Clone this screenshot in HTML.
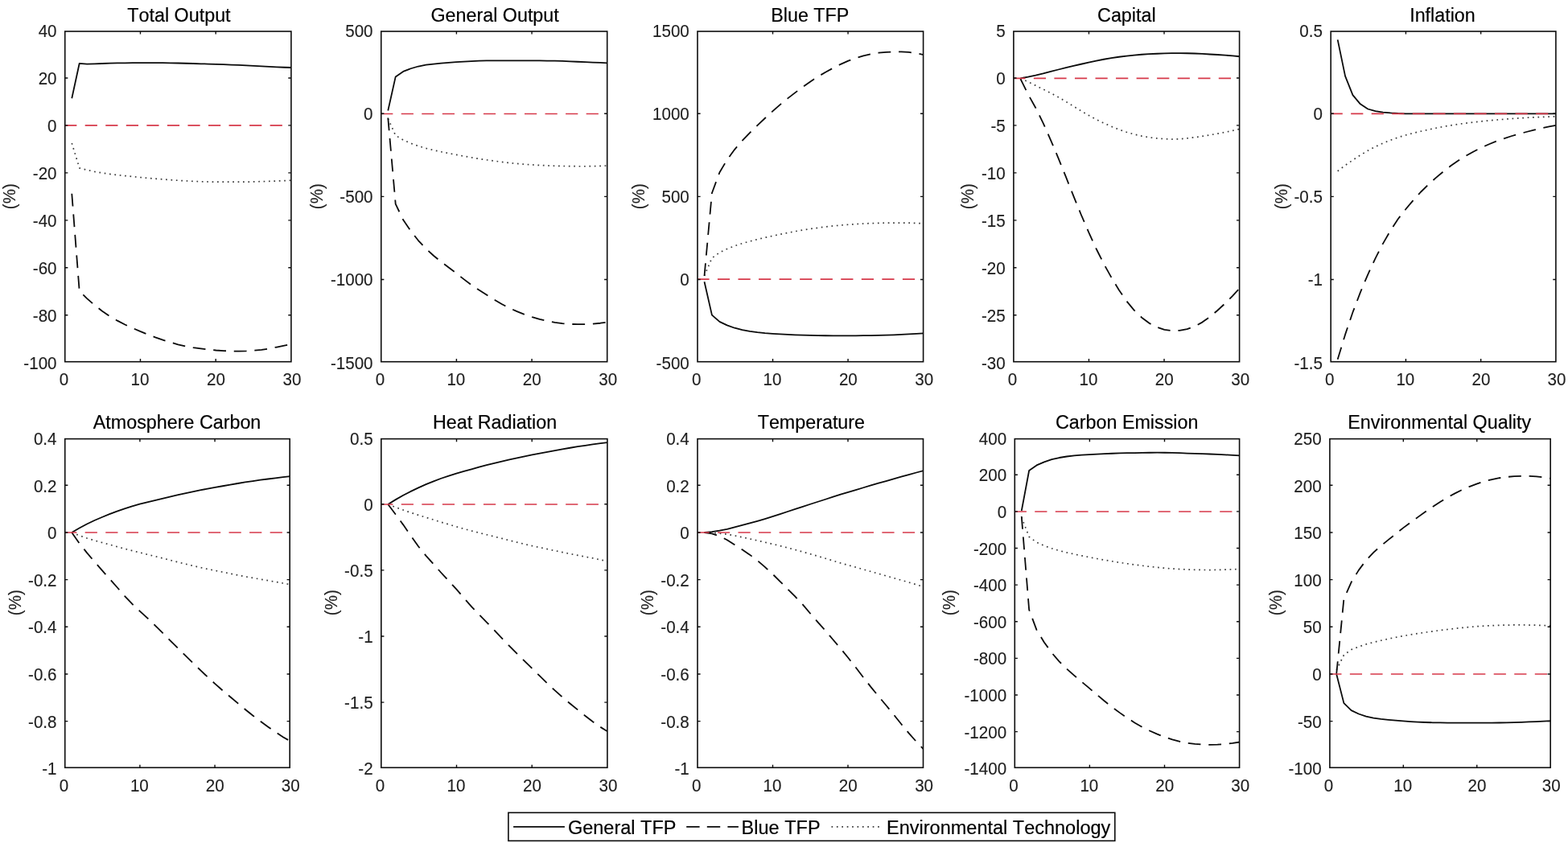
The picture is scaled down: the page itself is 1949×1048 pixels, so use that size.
<!DOCTYPE html>
<html lang="en">
<head>
<meta charset="utf-8">
<title>Impulse responses</title>
<style>
html,body{margin:0;padding:0;background:#fff;}
body{width:1949px;height:1048px;overflow:hidden;font-family:"Liberation Sans",Arial,Helvetica,sans-serif;}
svg{display:block;}
text{font-kerning:none;}
</style>
</head>
<body>
<svg width="1949" height="1048" viewBox="0 0 1949 1048" font-family="'Liberation Sans', Arial, Helvetica, sans-serif">
<rect x="0" y="0" width="1949" height="1048" fill="#fff"/>
<clipPath id="c0"><rect x="80.75" y="39" width="281.15" height="410.7"/></clipPath>
<g>
<g clip-path="url(#c0)">
<path d="M89.28 178 L98.71 208.9 L108.14 211.33 L117.58 213.36 L127.01 215.03 L136.44 216.38 L145.87 217.53 L155.3 218.56 L164.73 219.55 L174.17 220.48 L183.6 221.36 L193.03 222.18 L202.46 222.93 L211.89 223.64 L221.32 224.3 L230.76 224.87 L240.19 225.33 L249.62 225.71 L259.05 226.01 L268.48 226.17 L277.91 226.2 L287.35 226.2 L296.78 226.19 L306.21 226.13 L315.64 225.93 L325.07 225.63 L334.5 225.31 L343.94 224.98 L353.37 224.6 L362.8 224.2" fill="none" stroke-dasharray="1.7 4.7" stroke-width="1.7" stroke="#3a3a3a" stroke-linejoin="round"/>
<path d="M89.28 240.8 L98.71 362 L108.14 371.11 L117.58 379.34 L127.01 386.8 L136.44 393.21 L145.87 398.67 L155.3 403.48 L164.73 407.89 L174.17 411.95 L183.6 415.74 L193.03 419.3 L202.46 422.58 L211.89 425.6 L221.32 428.28 L230.76 430.43 L240.19 432.09 L249.62 433.43 L259.05 434.56 L268.48 435.5 L277.91 436.14 L287.35 436.51 L296.78 436.62 L306.21 436.37 L315.64 435.78 L325.07 434.87 L334.5 433.43 L343.94 431.52 L353.37 429.61 L362.8 428" fill="none" stroke-dasharray="15.8 9.8" stroke-width="1.8" stroke="#0a0a0a" stroke-linejoin="round"/>
<path d="M89.28 122.3 L98.71 78.8 L108.14 79.6 L117.58 79.28 L127.01 79 L136.44 78.72 L145.87 78.46 L155.3 78.28 L164.73 78.21 L174.17 78.2 L183.6 78.2 L193.03 78.2 L202.46 78.22 L211.89 78.31 L221.32 78.5 L230.76 78.75 L240.19 79.02 L249.62 79.28 L259.05 79.56 L268.48 79.87 L277.91 80.2 L287.35 80.55 L296.78 80.93 L306.21 81.35 L315.64 81.85 L325.07 82.38 L334.5 82.91 L343.94 83.38 L353.37 83.73 L362.8 84" fill="none" stroke-width="1.8" stroke="#0a0a0a" stroke-linejoin="round"/>
<line x1="80.15" y1="155.8" x2="361.9" y2="155.8" stroke="#d6394a" stroke-width="1.7" stroke-dasharray="15.2 10.35" fill="none"/>
</g>
<rect x="80.75" y="39" width="281.15" height="410.7" fill="none" stroke="#0d0d0d" stroke-width="1.6"/>
<path d="M174.47 449.7 v-3.6 M174.47 39 v3.6 M268.18 449.7 v-3.6 M268.18 39 v3.6 M80.75 96.96 h3.6 M361.9 96.96 h-3.6 M80.75 155.91 h3.6 M361.9 155.91 h-3.6 M80.75 214.87 h3.6 M361.9 214.87 h-3.6 M80.75 273.83 h3.6 M361.9 273.83 h-3.6 M80.75 332.79 h3.6 M361.9 332.79 h-3.6 M80.75 391.74 h3.6 M361.9 391.74 h-3.6" stroke="#0d0d0d" stroke-width="1.4" fill="none"/>
<text transform="translate(79.35 479) scale(1 1.1)" font-size="20.6" text-anchor="middle" fill="#202020" stroke="#202020" stroke-width="0.12">0</text>
<text transform="translate(173.9 479) scale(1 1.1)" font-size="20.6" text-anchor="middle" fill="#202020" stroke="#202020" stroke-width="0.12">10</text>
<text transform="translate(268.45 479) scale(1 1.1)" font-size="20.6" text-anchor="middle" fill="#202020" stroke="#202020" stroke-width="0.12">20</text>
<text transform="translate(363 479) scale(1 1.1)" font-size="20.6" text-anchor="middle" fill="#202020" stroke="#202020" stroke-width="0.12">30</text>
<text transform="translate(70.55 46.3) scale(1 1.1)" font-size="20.6" text-anchor="end" fill="#202020" stroke="#202020" stroke-width="0.12">40</text>
<text transform="translate(70.55 105.19) scale(1 1.1)" font-size="20.6" text-anchor="end" fill="#202020" stroke="#202020" stroke-width="0.12">20</text>
<text transform="translate(70.55 164.07) scale(1 1.1)" font-size="20.6" text-anchor="end" fill="#202020" stroke="#202020" stroke-width="0.12">0</text>
<text transform="translate(70.55 222.96) scale(1 1.1)" font-size="20.6" text-anchor="end" fill="#202020" stroke="#202020" stroke-width="0.12">-20</text>
<text transform="translate(70.55 281.84) scale(1 1.1)" font-size="20.6" text-anchor="end" fill="#202020" stroke="#202020" stroke-width="0.12">-40</text>
<text transform="translate(70.55 340.73) scale(1 1.1)" font-size="20.6" text-anchor="end" fill="#202020" stroke="#202020" stroke-width="0.12">-60</text>
<text transform="translate(70.55 399.61) scale(1 1.1)" font-size="20.6" text-anchor="end" fill="#202020" stroke="#202020" stroke-width="0.12">-80</text>
<text transform="translate(70.55 458.5) scale(1 1.1)" font-size="20.6" text-anchor="end" fill="#202020" stroke="#202020" stroke-width="0.12">-100</text>
<text x="222.47" y="26.7" font-size="23.3" text-anchor="middle" fill="#000" stroke="#000" stroke-width="0.18">Total Output</text>
<text transform="translate(19.1 244.2) rotate(-90) scale(1 1.1)" font-size="20.6" text-anchor="middle" fill="#202020" stroke="#202020" stroke-width="0.12">(%)</text>
</g>
<clipPath id="c1"><rect x="473.75" y="39" width="280.95" height="410.7"/></clipPath>
<g>
<g clip-path="url(#c1)">
<path d="M482.28 147.5 L491.7 168.3 L501.13 174.01 L510.55 178.12 L519.98 181.55 L529.4 184.33 L538.83 186.66 L548.25 188.72 L557.68 190.59 L567.1 192.38 L576.53 194.11 L585.95 195.78 L595.38 197.34 L604.8 198.78 L614.23 200.09 L623.65 201.31 L633.08 202.44 L642.5 203.42 L651.93 204.22 L661.35 204.87 L670.78 205.43 L680.2 205.9 L689.62 206.25 L699.05 206.47 L708.48 206.63 L717.9 206.74 L727.33 206.77 L736.75 206.64 L746.18 206.33 L755.6 205.9" fill="none" stroke-dasharray="1.7 4.7" stroke-width="1.7" stroke="#3a3a3a" stroke-linejoin="round"/>
<path d="M482.28 146.5 L491.7 253.6 L501.13 273.32 L510.55 287.04 L519.98 299.06 L529.4 309.14 L538.83 317.75 L548.25 325.41 L557.68 332.51 L567.1 339.68 L576.53 347.14 L585.95 354.21 L595.38 360.55 L604.8 366.52 L614.23 372.42 L623.65 378.03 L633.08 382.91 L642.5 387.15 L651.93 390.86 L661.35 394.14 L670.78 396.93 L680.2 399.17 L689.62 400.9 L699.05 402.1 L708.48 402.9 L717.9 403.2 L727.33 403.06 L736.75 402.61 L746.18 401.73 L755.6 400.4" fill="none" stroke-dasharray="15.8 9.8" stroke-width="1.8" stroke="#0a0a0a" stroke-linejoin="round"/>
<path d="M482.28 137.5 L491.7 95.4 L501.13 88.95 L510.55 85.24 L519.98 82.51 L529.4 80.73 L538.83 79.57 L548.25 78.66 L557.68 77.83 L567.1 77.13 L576.53 76.56 L585.95 76.06 L595.38 75.64 L604.8 75.39 L614.23 75.31 L623.65 75.3 L633.08 75.3 L642.5 75.3 L651.93 75.31 L661.35 75.34 L670.78 75.42 L680.2 75.55 L689.62 75.71 L699.05 75.94 L708.48 76.31 L717.9 76.75 L727.33 77.19 L736.75 77.58 L746.18 77.94 L755.6 78.3" fill="none" stroke-width="1.8" stroke="#0a0a0a" stroke-linejoin="round"/>
<line x1="473.15" y1="141.5" x2="754.7" y2="141.5" stroke="#d6394a" stroke-width="1.7" stroke-dasharray="15.2 10.35" fill="none"/>
</g>
<rect x="473.75" y="39" width="280.95" height="410.7" fill="none" stroke="#0d0d0d" stroke-width="1.6"/>
<path d="M567.4 449.7 v-3.6 M567.4 39 v3.6 M661.05 449.7 v-3.6 M661.05 39 v3.6 M473.75 141.18 h3.6 M754.7 141.18 h-3.6 M473.75 244.35 h3.6 M754.7 244.35 h-3.6 M473.75 347.52 h3.6 M754.7 347.52 h-3.6" stroke="#0d0d0d" stroke-width="1.4" fill="none"/>
<text transform="translate(472.35 479) scale(1 1.1)" font-size="20.6" text-anchor="middle" fill="#202020" stroke="#202020" stroke-width="0.12">0</text>
<text transform="translate(566.83 479) scale(1 1.1)" font-size="20.6" text-anchor="middle" fill="#202020" stroke="#202020" stroke-width="0.12">10</text>
<text transform="translate(661.32 479) scale(1 1.1)" font-size="20.6" text-anchor="middle" fill="#202020" stroke="#202020" stroke-width="0.12">20</text>
<text transform="translate(755.8 479) scale(1 1.1)" font-size="20.6" text-anchor="middle" fill="#202020" stroke="#202020" stroke-width="0.12">30</text>
<text transform="translate(463.55 46.3) scale(1 1.1)" font-size="20.6" text-anchor="end" fill="#202020" stroke="#202020" stroke-width="0.12">500</text>
<text transform="translate(463.55 149.35) scale(1 1.1)" font-size="20.6" text-anchor="end" fill="#202020" stroke="#202020" stroke-width="0.12">0</text>
<text transform="translate(463.55 252.4) scale(1 1.1)" font-size="20.6" text-anchor="end" fill="#202020" stroke="#202020" stroke-width="0.12">-500</text>
<text transform="translate(463.55 355.45) scale(1 1.1)" font-size="20.6" text-anchor="end" fill="#202020" stroke="#202020" stroke-width="0.12">-1000</text>
<text transform="translate(463.55 458.5) scale(1 1.1)" font-size="20.6" text-anchor="end" fill="#202020" stroke="#202020" stroke-width="0.12">-1500</text>
<text x="615.12" y="26.7" font-size="23.3" text-anchor="middle" fill="#000" stroke="#000" stroke-width="0.18">General Output</text>
<text transform="translate(400.8 244.2) rotate(-90) scale(1 1.1)" font-size="20.6" text-anchor="middle" fill="#202020" stroke="#202020" stroke-width="0.12">(%)</text>
</g>
<clipPath id="c2"><rect x="867" y="39" width="280.6" height="410.7"/></clipPath>
<g>
<g clip-path="url(#c2)">
<path d="M875.51 342.9 L884.93 320.8 L894.34 314.03 L903.75 309.45 L913.17 305.73 L922.58 302.66 L931.99 300 L941.41 297.6 L950.82 295.36 L960.23 293.28 L969.65 291.32 L979.06 289.43 L988.47 287.65 L997.89 286.02 L1007.3 284.56 L1016.71 283.21 L1026.13 281.97 L1035.54 280.88 L1044.95 279.99 L1054.37 279.24 L1063.78 278.57 L1073.19 278.01 L1082.61 277.6 L1092.02 277.35 L1101.43 277.18 L1110.85 277.06 L1120.26 277.03 L1129.67 277.16 L1139.09 277.47 L1148.5 277.9" fill="none" stroke-dasharray="1.7 4.7" stroke-width="1.7" stroke="#3a3a3a" stroke-linejoin="round"/>
<path d="M875.51 343 L884.93 240 L894.34 214.58 L903.75 198.65 L913.17 185.81 L922.58 174.98 L931.99 165.13 L941.41 155.86 L950.82 147 L960.23 138.4 L969.65 130.14 L979.06 122.4 L988.47 115.13 L997.89 108.13 L1007.3 101.45 L1016.71 95.31 L1026.13 89.72 L1035.54 84.58 L1044.95 79.81 L1054.37 75.63 L1063.78 72.18 L1073.19 69.38 L1082.61 67.23 L1092.02 65.67 L1101.43 64.8 L1110.85 64.39 L1120.26 64.36 L1129.67 64.97 L1139.09 66.28 L1148.5 68.2" fill="none" stroke-dasharray="15.8 9.8" stroke-width="1.8" stroke="#0a0a0a" stroke-linejoin="round"/>
<path d="M875.51 350.2 L884.93 391.6 L894.34 399.87 L903.75 404.42 L913.17 407.74 L922.58 410.08 L931.99 411.87 L941.41 413.17 L950.82 414.09 L960.23 414.78 L969.65 415.34 L979.06 415.85 L988.47 416.29 L997.89 416.63 L1007.3 416.87 L1016.71 417.07 L1026.13 417.23 L1035.54 417.34 L1044.95 417.39 L1054.37 417.37 L1063.78 417.31 L1073.19 417.21 L1082.61 417.08 L1092.02 416.92 L1101.43 416.65 L1110.85 416.3 L1120.26 415.89 L1129.67 415.43 L1139.09 414.89 L1148.5 414.3" fill="none" stroke-width="1.8" stroke="#0a0a0a" stroke-linejoin="round"/>
<line x1="866.4" y1="347.2" x2="1147.6" y2="347.2" stroke="#d6394a" stroke-width="1.7" stroke-dasharray="15.2 10.35" fill="none"/>
</g>
<rect x="867" y="39" width="280.6" height="410.7" fill="none" stroke="#0d0d0d" stroke-width="1.6"/>
<path d="M960.53 449.7 v-3.6 M960.53 39 v3.6 M1054.07 449.7 v-3.6 M1054.07 39 v3.6 M867 141.18 h3.6 M1147.6 141.18 h-3.6 M867 244.35 h3.6 M1147.6 244.35 h-3.6 M867 347.52 h3.6 M1147.6 347.52 h-3.6" stroke="#0d0d0d" stroke-width="1.4" fill="none"/>
<text transform="translate(865.6 479) scale(1 1.1)" font-size="20.6" text-anchor="middle" fill="#202020" stroke="#202020" stroke-width="0.12">0</text>
<text transform="translate(959.97 479) scale(1 1.1)" font-size="20.6" text-anchor="middle" fill="#202020" stroke="#202020" stroke-width="0.12">10</text>
<text transform="translate(1054.33 479) scale(1 1.1)" font-size="20.6" text-anchor="middle" fill="#202020" stroke="#202020" stroke-width="0.12">20</text>
<text transform="translate(1148.7 479) scale(1 1.1)" font-size="20.6" text-anchor="middle" fill="#202020" stroke="#202020" stroke-width="0.12">30</text>
<text transform="translate(856.8 46.3) scale(1 1.1)" font-size="20.6" text-anchor="end" fill="#202020" stroke="#202020" stroke-width="0.12">1500</text>
<text transform="translate(856.8 149.35) scale(1 1.1)" font-size="20.6" text-anchor="end" fill="#202020" stroke="#202020" stroke-width="0.12">1000</text>
<text transform="translate(856.8 252.4) scale(1 1.1)" font-size="20.6" text-anchor="end" fill="#202020" stroke="#202020" stroke-width="0.12">500</text>
<text transform="translate(856.8 355.45) scale(1 1.1)" font-size="20.6" text-anchor="end" fill="#202020" stroke="#202020" stroke-width="0.12">0</text>
<text transform="translate(856.8 458.5) scale(1 1.1)" font-size="20.6" text-anchor="end" fill="#202020" stroke="#202020" stroke-width="0.12">-500</text>
<text x="1006.8" y="26.7" font-size="23.3" text-anchor="middle" fill="#000" stroke="#000" stroke-width="0.18">Blue TFP</text>
<text transform="translate(800.6 244.2) rotate(-90) scale(1 1.1)" font-size="20.6" text-anchor="middle" fill="#202020" stroke="#202020" stroke-width="0.12">(%)</text>
</g>
<clipPath id="c3"><rect x="1259.9" y="39" width="280.7" height="410.7"/></clipPath>
<g>
<g clip-path="url(#c3)">
<path d="M1268.42 97.5 L1277.83 101.68 L1287.25 106.33 L1296.67 110.98 L1306.08 115.69 L1315.5 120.76 L1324.92 126.33 L1334.33 132.11 L1343.75 137.85 L1353.17 143.35 L1362.58 148.41 L1372 153.03 L1381.42 157.23 L1390.83 161.01 L1400.25 164.25 L1409.67 166.95 L1419.08 169.11 L1428.5 170.78 L1437.92 171.95 L1447.33 172.68 L1456.75 173.03 L1466.17 172.79 L1475.58 171.9 L1485 170.72 L1494.42 169.34 L1503.83 167.82 L1513.25 166.18 L1522.67 164.39 L1532.08 162.38 L1541.5 160.2" fill="none" stroke-dasharray="1.7 4.7" stroke-width="1.7" stroke="#3a3a3a" stroke-linejoin="round"/>
<path d="M1268.42 98 L1277.83 117.09 L1287.25 133.94 L1296.67 153.12 L1306.08 174.29 L1315.5 196.56 L1324.92 219.91 L1334.33 243.7 L1343.75 266.74 L1353.17 288.65 L1362.58 309.24 L1372 327.98 L1381.42 344.95 L1390.83 360.54 L1400.25 374.28 L1409.67 385.67 L1419.08 394.71 L1428.5 401.78 L1437.92 406.78 L1447.33 409.81 L1456.75 411.18 L1466.17 410.89 L1475.58 409.06 L1485 405.69 L1494.42 400.6 L1503.83 393.92 L1513.25 385.97 L1522.67 377.26 L1532.08 367.85 L1541.5 357.6" fill="none" stroke-dasharray="15.8 9.8" stroke-width="1.8" stroke="#0a0a0a" stroke-linejoin="round"/>
<path d="M1268.42 97.3 L1277.83 95.6 L1287.25 93.61 L1296.67 91.39 L1306.08 88.94 L1315.5 86.5 L1324.92 84.21 L1334.33 81.97 L1343.75 79.75 L1353.17 77.6 L1362.58 75.59 L1372 73.75 L1381.42 72.13 L1390.83 70.74 L1400.25 69.55 L1409.67 68.55 L1419.08 67.77 L1428.5 67.18 L1437.92 66.74 L1447.33 66.39 L1456.75 66.17 L1466.17 66.14 L1475.58 66.24 L1485 66.48 L1494.42 66.94 L1503.83 67.48 L1513.25 68.01 L1522.67 68.62 L1532.08 69.39 L1541.5 70.3" fill="none" stroke-width="1.8" stroke="#0a0a0a" stroke-linejoin="round"/>
<line x1="1259.3" y1="97.4" x2="1540.6" y2="97.4" stroke="#d6394a" stroke-width="1.7" stroke-dasharray="15.2 10.35" fill="none"/>
</g>
<rect x="1259.9" y="39" width="280.7" height="410.7" fill="none" stroke="#0d0d0d" stroke-width="1.6"/>
<path d="M1353.47 449.7 v-3.6 M1353.47 39 v3.6 M1447.03 449.7 v-3.6 M1447.03 39 v3.6 M1259.9 96.96 h3.6 M1540.6 96.96 h-3.6 M1259.9 155.91 h3.6 M1540.6 155.91 h-3.6 M1259.9 214.87 h3.6 M1540.6 214.87 h-3.6 M1259.9 273.83 h3.6 M1540.6 273.83 h-3.6 M1259.9 332.79 h3.6 M1540.6 332.79 h-3.6 M1259.9 391.74 h3.6 M1540.6 391.74 h-3.6" stroke="#0d0d0d" stroke-width="1.4" fill="none"/>
<text transform="translate(1258.5 479) scale(1 1.1)" font-size="20.6" text-anchor="middle" fill="#202020" stroke="#202020" stroke-width="0.12">0</text>
<text transform="translate(1352.9 479) scale(1 1.1)" font-size="20.6" text-anchor="middle" fill="#202020" stroke="#202020" stroke-width="0.12">10</text>
<text transform="translate(1447.3 479) scale(1 1.1)" font-size="20.6" text-anchor="middle" fill="#202020" stroke="#202020" stroke-width="0.12">20</text>
<text transform="translate(1541.7 479) scale(1 1.1)" font-size="20.6" text-anchor="middle" fill="#202020" stroke="#202020" stroke-width="0.12">30</text>
<text transform="translate(1249.7 46.3) scale(1 1.1)" font-size="20.6" text-anchor="end" fill="#202020" stroke="#202020" stroke-width="0.12">5</text>
<text transform="translate(1249.7 105.19) scale(1 1.1)" font-size="20.6" text-anchor="end" fill="#202020" stroke="#202020" stroke-width="0.12">0</text>
<text transform="translate(1249.7 164.07) scale(1 1.1)" font-size="20.6" text-anchor="end" fill="#202020" stroke="#202020" stroke-width="0.12">-5</text>
<text transform="translate(1249.7 222.96) scale(1 1.1)" font-size="20.6" text-anchor="end" fill="#202020" stroke="#202020" stroke-width="0.12">-10</text>
<text transform="translate(1249.7 281.84) scale(1 1.1)" font-size="20.6" text-anchor="end" fill="#202020" stroke="#202020" stroke-width="0.12">-15</text>
<text transform="translate(1249.7 340.73) scale(1 1.1)" font-size="20.6" text-anchor="end" fill="#202020" stroke="#202020" stroke-width="0.12">-20</text>
<text transform="translate(1249.7 399.61) scale(1 1.1)" font-size="20.6" text-anchor="end" fill="#202020" stroke="#202020" stroke-width="0.12">-25</text>
<text transform="translate(1249.7 458.5) scale(1 1.1)" font-size="20.6" text-anchor="end" fill="#202020" stroke="#202020" stroke-width="0.12">-30</text>
<text x="1400.35" y="26.7" font-size="23.3" text-anchor="middle" fill="#000" stroke="#000" stroke-width="0.18">Capital</text>
<text transform="translate(1209.5 244.2) rotate(-90) scale(1 1.1)" font-size="20.6" text-anchor="middle" fill="#202020" stroke="#202020" stroke-width="0.12">(%)</text>
</g>
<clipPath id="c4"><rect x="1654.2" y="39" width="279.7" height="410.7"/></clipPath>
<g>
<g clip-path="url(#c4)">
<path d="M1662.68 212.7 L1672.07 205.55 L1681.45 199.02 L1690.83 192.89 L1700.22 187.28 L1709.6 182.32 L1718.98 177.99 L1728.37 174.2 L1737.75 170.87 L1747.13 167.97 L1756.52 165.48 L1765.9 163.28 L1775.28 161.2 L1784.67 159.23 L1794.05 157.44 L1803.43 155.82 L1812.82 154.38 L1822.2 153.08 L1831.58 151.91 L1840.97 150.87 L1850.35 149.93 L1859.73 149.07 L1869.12 148.28 L1878.5 147.56 L1887.88 146.9 L1897.27 146.33 L1906.65 145.86 L1916.03 145.45 L1925.42 145.11 L1934.8 144.8" fill="none" stroke-dasharray="1.7 4.7" stroke-width="1.7" stroke="#3a3a3a" stroke-linejoin="round"/>
<path d="M1662.68 446.8 L1672.07 415.91 L1681.45 388.3 L1690.83 363.61 L1700.22 341.34 L1709.6 321.04 L1718.98 302.83 L1728.37 286.59 L1737.75 272.24 L1747.13 260.27 L1756.52 249.07 L1765.9 238.76 L1775.28 229.6 L1784.67 221.13 L1794.05 213.28 L1803.43 206.07 L1812.82 199.55 L1822.2 193.71 L1831.58 188.46 L1840.97 183.74 L1850.35 179.5 L1859.73 175.69 L1869.12 172.28 L1878.5 169.24 L1887.88 166.52 L1897.27 164 L1906.65 161.6 L1916.03 159.39 L1925.42 157.41 L1934.8 155.6" fill="none" stroke-dasharray="15.8 9.8" stroke-width="1.8" stroke="#0a0a0a" stroke-linejoin="round"/>
<path d="M1662.68 49.4 L1672.07 94.6 L1681.45 118.2 L1690.83 129.3 L1700.22 135.5 L1709.6 138.2 L1718.98 139.6 L1728.37 140.4 L1737.75 140.98 L1747.13 141.3 L1756.52 141.37 L1765.9 141.4 L1775.28 141.4 L1784.67 141.4 L1794.05 141.4 L1803.43 141.4 L1812.82 141.4 L1822.2 141.4 L1831.58 141.4 L1840.97 141.4 L1850.35 141.4 L1859.73 141.4 L1869.12 141.4 L1878.5 141.4 L1887.88 141.4 L1897.27 141.4 L1906.65 141.4 L1916.03 141.4 L1925.42 141.4 L1934.8 141.4" fill="none" stroke-width="1.8" stroke="#0a0a0a" stroke-linejoin="round"/>
<line x1="1653.6" y1="141.4" x2="1933.9" y2="141.4" stroke="#d6394a" stroke-width="1.7" stroke-dasharray="15.2 10.35" fill="none"/>
</g>
<rect x="1654.2" y="39" width="279.7" height="410.7" fill="none" stroke="#0d0d0d" stroke-width="1.6"/>
<path d="M1747.43 449.7 v-3.6 M1747.43 39 v3.6 M1840.67 449.7 v-3.6 M1840.67 39 v3.6 M1654.2 141.18 h3.6 M1933.9 141.18 h-3.6 M1654.2 244.35 h3.6 M1933.9 244.35 h-3.6 M1654.2 347.52 h3.6 M1933.9 347.52 h-3.6" stroke="#0d0d0d" stroke-width="1.4" fill="none"/>
<text transform="translate(1652.8 479) scale(1 1.1)" font-size="20.6" text-anchor="middle" fill="#202020" stroke="#202020" stroke-width="0.12">0</text>
<text transform="translate(1746.87 479) scale(1 1.1)" font-size="20.6" text-anchor="middle" fill="#202020" stroke="#202020" stroke-width="0.12">10</text>
<text transform="translate(1840.93 479) scale(1 1.1)" font-size="20.6" text-anchor="middle" fill="#202020" stroke="#202020" stroke-width="0.12">20</text>
<text transform="translate(1935 479) scale(1 1.1)" font-size="20.6" text-anchor="middle" fill="#202020" stroke="#202020" stroke-width="0.12">30</text>
<text transform="translate(1644 46.3) scale(1 1.1)" font-size="20.6" text-anchor="end" fill="#202020" stroke="#202020" stroke-width="0.12">0.5</text>
<text transform="translate(1644 149.35) scale(1 1.1)" font-size="20.6" text-anchor="end" fill="#202020" stroke="#202020" stroke-width="0.12">0</text>
<text transform="translate(1644 252.4) scale(1 1.1)" font-size="20.6" text-anchor="end" fill="#202020" stroke="#202020" stroke-width="0.12">-0.5</text>
<text transform="translate(1644 355.45) scale(1 1.1)" font-size="20.6" text-anchor="end" fill="#202020" stroke="#202020" stroke-width="0.12">-1</text>
<text transform="translate(1644 458.5) scale(1 1.1)" font-size="20.6" text-anchor="end" fill="#202020" stroke="#202020" stroke-width="0.12">-1.5</text>
<text x="1793" y="26.7" font-size="23.3" text-anchor="middle" fill="#000" stroke="#000" stroke-width="0.18">Inflation</text>
<text transform="translate(1599.5 244.2) rotate(-90) scale(1 1.1)" font-size="20.6" text-anchor="middle" fill="#202020" stroke="#202020" stroke-width="0.12">(%)</text>
</g>
<clipPath id="c5"><rect x="80.75" y="545.6" width="279.45" height="408.7"/></clipPath>
<g>
<g clip-path="url(#c5)">
<path d="M89.22 662 L98.6 665.76 L107.97 669.02 L117.35 671.9 L126.72 674.45 L136.1 677 L145.47 679.63 L154.85 682.19 L164.22 684.59 L173.6 686.9 L182.97 689.21 L192.35 691.53 L201.72 693.89 L211.1 696.27 L220.47 698.63 L229.85 700.97 L239.22 703.23 L248.6 705.38 L257.98 707.42 L267.35 709.32 L276.73 711.16 L286.1 713.05 L295.48 714.96 L304.85 716.76 L314.23 718.44 L323.6 720.07 L332.98 721.69 L342.35 723.32 L351.73 725.03 L361.1 726.8" fill="none" stroke-dasharray="1.7 4.7" stroke-width="1.7" stroke="#3a3a3a" stroke-linejoin="round"/>
<path d="M89.22 662 L98.6 675.3 L107.97 687.07 L117.35 698.26 L126.72 708.88 L136.1 719.39 L145.47 730.03 L154.85 740.77 L164.22 750.72 L173.6 759.55 L182.97 768.13 L192.35 777.14 L201.72 786.43 L211.1 795.79 L220.47 805.16 L229.85 814.48 L239.22 823.69 L248.6 832.72 L257.98 841.53 L267.35 850.09 L276.73 858.35 L286.1 866.3 L295.48 874.12 L304.85 881.94 L314.23 889.53 L323.6 896.67 L332.98 903.46 L342.35 910.06 L351.73 916.23 L361.1 921.6" fill="none" stroke-dasharray="15.8 9.8" stroke-width="1.8" stroke="#0a0a0a" stroke-linejoin="round"/>
<path d="M89.22 662 L98.6 656.43 L107.97 651.49 L117.35 647 L126.72 642.97 L136.1 639.21 L145.47 635.65 L154.85 632.37 L164.22 629.39 L173.6 626.69 L182.97 624.27 L192.35 622.02 L201.72 619.8 L211.1 617.61 L220.47 615.47 L229.85 613.4 L239.22 611.38 L248.6 609.42 L257.98 607.57 L267.35 605.88 L276.73 604.26 L286.1 602.63 L295.48 600.99 L304.85 599.44 L314.23 598.02 L323.6 596.71 L332.98 595.49 L342.35 594.34 L351.73 593.21 L361.1 592.1" fill="none" stroke-width="1.8" stroke="#0a0a0a" stroke-linejoin="round"/>
<line x1="80.15" y1="662" x2="360.2" y2="662" stroke="#d6394a" stroke-width="1.7" stroke-dasharray="15.2 10.35" fill="none"/>
</g>
<rect x="80.75" y="545.6" width="279.45" height="408.7" fill="none" stroke="#0d0d0d" stroke-width="1.6"/>
<path d="M173.9 954.3 v-3.6 M173.9 545.6 v3.6 M267.05 954.3 v-3.6 M267.05 545.6 v3.6 M80.75 603.27 h3.6 M360.2 603.27 h-3.6 M80.75 661.94 h3.6 M360.2 661.94 h-3.6 M80.75 720.61 h3.6 M360.2 720.61 h-3.6 M80.75 779.29 h3.6 M360.2 779.29 h-3.6 M80.75 837.96 h3.6 M360.2 837.96 h-3.6 M80.75 896.63 h3.6 M360.2 896.63 h-3.6" stroke="#0d0d0d" stroke-width="1.4" fill="none"/>
<text transform="translate(79.35 983.6) scale(1 1.1)" font-size="20.6" text-anchor="middle" fill="#202020" stroke="#202020" stroke-width="0.12">0</text>
<text transform="translate(173.33 983.6) scale(1 1.1)" font-size="20.6" text-anchor="middle" fill="#202020" stroke="#202020" stroke-width="0.12">10</text>
<text transform="translate(267.32 983.6) scale(1 1.1)" font-size="20.6" text-anchor="middle" fill="#202020" stroke="#202020" stroke-width="0.12">20</text>
<text transform="translate(361.3 983.6) scale(1 1.1)" font-size="20.6" text-anchor="middle" fill="#202020" stroke="#202020" stroke-width="0.12">30</text>
<text transform="translate(70.55 552.9) scale(1 1.1)" font-size="20.6" text-anchor="end" fill="#202020" stroke="#202020" stroke-width="0.12">0.4</text>
<text transform="translate(70.55 611.5) scale(1 1.1)" font-size="20.6" text-anchor="end" fill="#202020" stroke="#202020" stroke-width="0.12">0.2</text>
<text transform="translate(70.55 670.1) scale(1 1.1)" font-size="20.6" text-anchor="end" fill="#202020" stroke="#202020" stroke-width="0.12">0</text>
<text transform="translate(70.55 728.7) scale(1 1.1)" font-size="20.6" text-anchor="end" fill="#202020" stroke="#202020" stroke-width="0.12">-0.2</text>
<text transform="translate(70.55 787.3) scale(1 1.1)" font-size="20.6" text-anchor="end" fill="#202020" stroke="#202020" stroke-width="0.12">-0.4</text>
<text transform="translate(70.55 845.9) scale(1 1.1)" font-size="20.6" text-anchor="end" fill="#202020" stroke="#202020" stroke-width="0.12">-0.6</text>
<text transform="translate(70.55 904.5) scale(1 1.1)" font-size="20.6" text-anchor="end" fill="#202020" stroke="#202020" stroke-width="0.12">-0.8</text>
<text transform="translate(70.55 963.1) scale(1 1.1)" font-size="20.6" text-anchor="end" fill="#202020" stroke="#202020" stroke-width="0.12">-1</text>
<text x="220.08" y="533.4" font-size="23.3" text-anchor="middle" fill="#000" stroke="#000" stroke-width="0.18">Atmosphere Carbon</text>
<text transform="translate(25.8 749.2) rotate(-90) scale(1 1.1)" font-size="20.6" text-anchor="middle" fill="#202020" stroke="#202020" stroke-width="0.12">(%)</text>
</g>
<clipPath id="c6"><rect x="473.8" y="545.6" width="281.1" height="408.7"/></clipPath>
<g>
<g clip-path="url(#c6)">
<path d="M482.33 627 L491.76 630.66 L501.19 634.07 L510.62 637.29 L520.05 640.32 L529.48 643.27 L538.91 646.2 L548.34 649.1 L557.77 651.96 L567.2 654.75 L576.63 657.41 L586.06 659.95 L595.49 662.37 L604.92 664.71 L614.35 667.05 L623.78 669.4 L633.21 671.78 L642.64 674.18 L652.07 676.49 L661.5 678.6 L670.93 680.59 L680.36 682.6 L689.79 684.61 L699.22 686.59 L708.65 688.51 L718.08 690.36 L727.51 692.11 L736.94 693.91 L746.37 695.89 L755.8 698" fill="none" stroke-dasharray="1.7 4.7" stroke-width="1.7" stroke="#3a3a3a" stroke-linejoin="round"/>
<path d="M482.33 627 L491.76 639.49 L501.19 652.35 L510.62 665.9 L520.05 679.3 L529.48 690.85 L538.91 701.44 L548.34 712 L557.77 722.27 L567.2 732.4 L576.63 743.35 L586.06 754.13 L595.49 763.95 L604.92 773.51 L614.35 783.43 L623.78 793.42 L633.21 803.13 L642.64 812.57 L652.07 821.87 L661.5 831.12 L670.93 840.4 L680.36 849.55 L689.79 858.43 L699.22 866.84 L708.65 874.69 L718.08 882.33 L727.51 890 L736.94 897.32 L746.37 903.87 L755.8 909.8" fill="none" stroke-dasharray="15.8 9.8" stroke-width="1.8" stroke="#0a0a0a" stroke-linejoin="round"/>
<path d="M482.33 627 L491.76 621.12 L501.19 615.79 L510.62 610.86 L520.05 606.36 L529.48 602.19 L538.91 598.31 L548.34 594.76 L557.77 591.59 L567.2 588.67 L576.63 585.91 L586.06 583.28 L595.49 580.7 L604.92 578.18 L614.35 575.82 L623.78 573.6 L633.21 571.46 L642.64 569.33 L652.07 567.28 L661.5 565.36 L670.93 563.55 L680.36 561.77 L689.79 560.03 L699.22 558.36 L708.65 556.74 L718.08 555.22 L727.51 553.78 L736.94 552.45 L746.37 551.23 L755.8 550.1" fill="none" stroke-width="1.8" stroke="#0a0a0a" stroke-linejoin="round"/>
<line x1="473.2" y1="627" x2="754.9" y2="627" stroke="#d6394a" stroke-width="1.7" stroke-dasharray="15.2 10.35" fill="none"/>
</g>
<rect x="473.8" y="545.6" width="281.1" height="408.7" fill="none" stroke="#0d0d0d" stroke-width="1.6"/>
<path d="M567.5 954.3 v-3.6 M567.5 545.6 v3.6 M661.2 954.3 v-3.6 M661.2 545.6 v3.6 M473.8 626.74 h3.6 M754.9 626.74 h-3.6 M473.8 708.88 h3.6 M754.9 708.88 h-3.6 M473.8 791.02 h3.6 M754.9 791.02 h-3.6 M473.8 873.16 h3.6 M754.9 873.16 h-3.6" stroke="#0d0d0d" stroke-width="1.4" fill="none"/>
<text transform="translate(472.4 983.6) scale(1 1.1)" font-size="20.6" text-anchor="middle" fill="#202020" stroke="#202020" stroke-width="0.12">0</text>
<text transform="translate(566.93 983.6) scale(1 1.1)" font-size="20.6" text-anchor="middle" fill="#202020" stroke="#202020" stroke-width="0.12">10</text>
<text transform="translate(661.47 983.6) scale(1 1.1)" font-size="20.6" text-anchor="middle" fill="#202020" stroke="#202020" stroke-width="0.12">20</text>
<text transform="translate(756 983.6) scale(1 1.1)" font-size="20.6" text-anchor="middle" fill="#202020" stroke="#202020" stroke-width="0.12">30</text>
<text transform="translate(463.6 552.9) scale(1 1.1)" font-size="20.6" text-anchor="end" fill="#202020" stroke="#202020" stroke-width="0.12">0.5</text>
<text transform="translate(463.6 634.94) scale(1 1.1)" font-size="20.6" text-anchor="end" fill="#202020" stroke="#202020" stroke-width="0.12">0</text>
<text transform="translate(463.6 716.98) scale(1 1.1)" font-size="20.6" text-anchor="end" fill="#202020" stroke="#202020" stroke-width="0.12">-0.5</text>
<text transform="translate(463.6 799.02) scale(1 1.1)" font-size="20.6" text-anchor="end" fill="#202020" stroke="#202020" stroke-width="0.12">-1</text>
<text transform="translate(463.6 881.06) scale(1 1.1)" font-size="20.6" text-anchor="end" fill="#202020" stroke="#202020" stroke-width="0.12">-1.5</text>
<text transform="translate(463.6 963.1) scale(1 1.1)" font-size="20.6" text-anchor="end" fill="#202020" stroke="#202020" stroke-width="0.12">-2</text>
<text x="615.1" y="533.4" font-size="23.3" text-anchor="middle" fill="#000" stroke="#000" stroke-width="0.18">Heat Radiation</text>
<text transform="translate(418.6 749.2) rotate(-90) scale(1 1.1)" font-size="20.6" text-anchor="middle" fill="#202020" stroke="#202020" stroke-width="0.12">(%)</text>
</g>
<clipPath id="c7"><rect x="867" y="545.6" width="280.5" height="408.7"/></clipPath>
<g>
<g clip-path="url(#c7)">
<path d="M875.51 662 L884.92 662.32 L894.33 663.12 L903.74 664.25 L913.15 665.91 L922.56 667.84 L931.97 669.89 L941.38 672.01 L950.79 674.14 L960.2 676.32 L969.61 678.6 L979.02 681 L988.43 683.49 L997.84 686.08 L1007.25 688.74 L1016.66 691.45 L1026.07 694.24 L1035.48 697.12 L1044.89 699.95 L1054.3 702.61 L1063.71 705.19 L1073.12 707.83 L1082.53 710.52 L1091.94 713.21 L1101.35 715.88 L1110.76 718.56 L1120.17 721.24 L1129.58 723.97 L1138.99 726.76 L1148.4 729.6" fill="none" stroke-dasharray="1.7 4.7" stroke-width="1.7" stroke="#3a3a3a" stroke-linejoin="round"/>
<path d="M875.51 662 L884.92 663.29 L894.33 666.53 L903.74 671.29 L913.15 677.23 L922.56 683.29 L931.97 689.64 L941.38 696.8 L950.79 704.83 L960.2 713.54 L969.61 722.77 L979.02 732.2 L988.43 741.7 L997.84 751.65 L1007.25 762.76 L1016.66 773.54 L1026.07 784.16 L1035.48 795.21 L1044.89 806.37 L1054.3 817.71 L1063.71 829.77 L1073.12 842.12 L1082.53 854.08 L1091.94 865.53 L1101.35 876.75 L1110.76 888.31 L1120.17 900.04 L1129.58 911.39 L1138.99 922.03 L1148.4 931.9" fill="none" stroke-dasharray="15.8 9.8" stroke-width="1.8" stroke="#0a0a0a" stroke-linejoin="round"/>
<path d="M875.51 662 L884.92 661.2 L894.33 659.68 L903.74 657.76 L913.15 655.42 L922.56 652.94 L931.97 650.43 L941.38 647.82 L950.79 645.08 L960.2 642.2 L969.61 639.16 L979.02 636.02 L988.43 632.89 L997.84 629.8 L1007.25 626.76 L1016.66 623.76 L1026.07 620.74 L1035.48 617.67 L1044.89 614.66 L1054.3 611.83 L1063.71 609.07 L1073.12 606.24 L1082.53 603.37 L1091.94 600.63 L1101.35 598.03 L1110.76 595.42 L1120.17 592.74 L1129.58 590.07 L1138.99 587.5 L1148.4 585" fill="none" stroke-width="1.8" stroke="#0a0a0a" stroke-linejoin="round"/>
<line x1="866.4" y1="662" x2="1147.5" y2="662" stroke="#d6394a" stroke-width="1.7" stroke-dasharray="15.2 10.35" fill="none"/>
</g>
<rect x="867" y="545.6" width="280.5" height="408.7" fill="none" stroke="#0d0d0d" stroke-width="1.6"/>
<path d="M960.5 954.3 v-3.6 M960.5 545.6 v3.6 M1054 954.3 v-3.6 M1054 545.6 v3.6 M867 603.27 h3.6 M1147.5 603.27 h-3.6 M867 661.94 h3.6 M1147.5 661.94 h-3.6 M867 720.61 h3.6 M1147.5 720.61 h-3.6 M867 779.29 h3.6 M1147.5 779.29 h-3.6 M867 837.96 h3.6 M1147.5 837.96 h-3.6 M867 896.63 h3.6 M1147.5 896.63 h-3.6" stroke="#0d0d0d" stroke-width="1.4" fill="none"/>
<text transform="translate(865.6 983.6) scale(1 1.1)" font-size="20.6" text-anchor="middle" fill="#202020" stroke="#202020" stroke-width="0.12">0</text>
<text transform="translate(959.93 983.6) scale(1 1.1)" font-size="20.6" text-anchor="middle" fill="#202020" stroke="#202020" stroke-width="0.12">10</text>
<text transform="translate(1054.27 983.6) scale(1 1.1)" font-size="20.6" text-anchor="middle" fill="#202020" stroke="#202020" stroke-width="0.12">20</text>
<text transform="translate(1148.6 983.6) scale(1 1.1)" font-size="20.6" text-anchor="middle" fill="#202020" stroke="#202020" stroke-width="0.12">30</text>
<text transform="translate(856.8 552.9) scale(1 1.1)" font-size="20.6" text-anchor="end" fill="#202020" stroke="#202020" stroke-width="0.12">0.4</text>
<text transform="translate(856.8 611.5) scale(1 1.1)" font-size="20.6" text-anchor="end" fill="#202020" stroke="#202020" stroke-width="0.12">0.2</text>
<text transform="translate(856.8 670.1) scale(1 1.1)" font-size="20.6" text-anchor="end" fill="#202020" stroke="#202020" stroke-width="0.12">0</text>
<text transform="translate(856.8 728.7) scale(1 1.1)" font-size="20.6" text-anchor="end" fill="#202020" stroke="#202020" stroke-width="0.12">-0.2</text>
<text transform="translate(856.8 787.3) scale(1 1.1)" font-size="20.6" text-anchor="end" fill="#202020" stroke="#202020" stroke-width="0.12">-0.4</text>
<text transform="translate(856.8 845.9) scale(1 1.1)" font-size="20.6" text-anchor="end" fill="#202020" stroke="#202020" stroke-width="0.12">-0.6</text>
<text transform="translate(856.8 904.5) scale(1 1.1)" font-size="20.6" text-anchor="end" fill="#202020" stroke="#202020" stroke-width="0.12">-0.8</text>
<text transform="translate(856.8 963.1) scale(1 1.1)" font-size="20.6" text-anchor="end" fill="#202020" stroke="#202020" stroke-width="0.12">-1</text>
<text x="1008.35" y="533.4" font-size="23.3" text-anchor="middle" fill="#000" stroke="#000" stroke-width="0.18">Temperature</text>
<text transform="translate(811.8 749.2) rotate(-90) scale(1 1.1)" font-size="20.6" text-anchor="middle" fill="#202020" stroke="#202020" stroke-width="0.12">(%)</text>
</g>
<clipPath id="c8"><rect x="1261.3" y="545.6" width="279.3" height="408.7"/></clipPath>
<g>
<g clip-path="url(#c8)">
<path d="M1269.77 643 L1279.14 667.3 L1288.51 674.16 L1297.88 678.4 L1307.25 681.79 L1316.62 684.54 L1325.99 686.88 L1335.36 688.98 L1344.73 690.91 L1354.1 692.73 L1363.47 694.48 L1372.84 696.17 L1382.21 697.78 L1391.58 699.31 L1400.95 700.72 L1410.32 702.02 L1419.69 703.24 L1429.06 704.38 L1438.43 705.4 L1447.8 706.28 L1457.17 707.01 L1466.54 707.57 L1475.91 708 L1485.28 708.3 L1494.65 708.5 L1504.02 708.55 L1513.39 708.43 L1522.76 708.19 L1532.13 707.88 L1541.5 707.5" fill="none" stroke-dasharray="1.7 4.7" stroke-width="1.7" stroke="#3a3a3a" stroke-linejoin="round"/>
<path d="M1269.77 642 L1279.14 758 L1288.51 783.1 L1297.88 798.43 L1307.25 811.48 L1316.62 822.34 L1325.99 831.56 L1335.36 839.85 L1344.73 847.79 L1354.1 855.64 L1363.47 863.65 L1372.84 871.56 L1382.21 878.97 L1391.58 885.88 L1400.95 892.37 L1410.32 898.42 L1419.69 903.81 L1429.06 908.51 L1438.43 912.64 L1447.8 916.34 L1457.17 919.47 L1466.54 921.88 L1475.91 923.68 L1485.28 924.88 L1494.65 925.64 L1504.02 925.88 L1513.39 925.63 L1522.76 925.01 L1532.13 923.94 L1541.5 922.4" fill="none" stroke-dasharray="15.8 9.8" stroke-width="1.8" stroke="#0a0a0a" stroke-linejoin="round"/>
<path d="M1269.77 635 L1279.14 585 L1288.51 578.44 L1297.88 574.36 L1307.25 571.2 L1316.62 569.01 L1325.99 567.5 L1335.36 566.43 L1344.73 565.66 L1354.1 565.06 L1363.47 564.56 L1372.84 564.13 L1382.21 563.77 L1391.58 563.47 L1400.95 563.22 L1410.32 563.03 L1419.69 562.88 L1429.06 562.77 L1438.43 562.72 L1447.8 562.76 L1457.17 562.89 L1466.54 563.16 L1475.91 563.56 L1485.28 563.91 L1494.65 564.19 L1504.02 564.5 L1513.39 564.92 L1522.76 565.4 L1532.13 565.93 L1541.5 566.5" fill="none" stroke-width="1.8" stroke="#0a0a0a" stroke-linejoin="round"/>
<line x1="1260.7" y1="636" x2="1540.6" y2="636" stroke="#d6394a" stroke-width="1.7" stroke-dasharray="15.2 10.35" fill="none"/>
</g>
<rect x="1261.3" y="545.6" width="279.3" height="408.7" fill="none" stroke="#0d0d0d" stroke-width="1.6"/>
<path d="M1354.4 954.3 v-3.6 M1354.4 545.6 v3.6 M1447.5 954.3 v-3.6 M1447.5 545.6 v3.6 M1261.3 590.23 h3.6 M1540.6 590.23 h-3.6 M1261.3 635.87 h3.6 M1540.6 635.87 h-3.6 M1261.3 681.5 h3.6 M1540.6 681.5 h-3.6 M1261.3 727.13 h3.6 M1540.6 727.13 h-3.6 M1261.3 772.77 h3.6 M1540.6 772.77 h-3.6 M1261.3 818.4 h3.6 M1540.6 818.4 h-3.6 M1261.3 864.03 h3.6 M1540.6 864.03 h-3.6 M1261.3 909.67 h3.6 M1540.6 909.67 h-3.6" stroke="#0d0d0d" stroke-width="1.4" fill="none"/>
<text transform="translate(1259.9 983.6) scale(1 1.1)" font-size="20.6" text-anchor="middle" fill="#202020" stroke="#202020" stroke-width="0.12">0</text>
<text transform="translate(1353.83 983.6) scale(1 1.1)" font-size="20.6" text-anchor="middle" fill="#202020" stroke="#202020" stroke-width="0.12">10</text>
<text transform="translate(1447.77 983.6) scale(1 1.1)" font-size="20.6" text-anchor="middle" fill="#202020" stroke="#202020" stroke-width="0.12">20</text>
<text transform="translate(1541.7 983.6) scale(1 1.1)" font-size="20.6" text-anchor="middle" fill="#202020" stroke="#202020" stroke-width="0.12">30</text>
<text transform="translate(1251.1 552.9) scale(1 1.1)" font-size="20.6" text-anchor="end" fill="#202020" stroke="#202020" stroke-width="0.12">400</text>
<text transform="translate(1251.1 598.48) scale(1 1.1)" font-size="20.6" text-anchor="end" fill="#202020" stroke="#202020" stroke-width="0.12">200</text>
<text transform="translate(1251.1 644.06) scale(1 1.1)" font-size="20.6" text-anchor="end" fill="#202020" stroke="#202020" stroke-width="0.12">0</text>
<text transform="translate(1251.1 689.63) scale(1 1.1)" font-size="20.6" text-anchor="end" fill="#202020" stroke="#202020" stroke-width="0.12">-200</text>
<text transform="translate(1251.1 735.21) scale(1 1.1)" font-size="20.6" text-anchor="end" fill="#202020" stroke="#202020" stroke-width="0.12">-400</text>
<text transform="translate(1251.1 780.79) scale(1 1.1)" font-size="20.6" text-anchor="end" fill="#202020" stroke="#202020" stroke-width="0.12">-600</text>
<text transform="translate(1251.1 826.37) scale(1 1.1)" font-size="20.6" text-anchor="end" fill="#202020" stroke="#202020" stroke-width="0.12">-800</text>
<text transform="translate(1251.1 871.94) scale(1 1.1)" font-size="20.6" text-anchor="end" fill="#202020" stroke="#202020" stroke-width="0.12">-1000</text>
<text transform="translate(1251.1 917.52) scale(1 1.1)" font-size="20.6" text-anchor="end" fill="#202020" stroke="#202020" stroke-width="0.12">-1200</text>
<text transform="translate(1251.1 963.1) scale(1 1.1)" font-size="20.6" text-anchor="end" fill="#202020" stroke="#202020" stroke-width="0.12">-1400</text>
<text x="1400.7" y="533.4" font-size="23.3" text-anchor="middle" fill="#000" stroke="#000" stroke-width="0.18">Carbon Emission</text>
<text transform="translate(1186.9 749.2) rotate(-90) scale(1 1.1)" font-size="20.6" text-anchor="middle" fill="#202020" stroke="#202020" stroke-width="0.12">(%)</text>
</g>
<clipPath id="c9"><rect x="1652.9" y="545.6" width="274.3" height="408.7"/></clipPath>
<g>
<g clip-path="url(#c9)">
<path d="M1661.2 833 L1670.41 814.3 L1679.61 807.64 L1688.81 803.96 L1698.02 800.94 L1707.22 798.45 L1716.42 796.26 L1725.63 794.22 L1734.83 792.34 L1744.03 790.61 L1753.24 789.03 L1762.44 787.56 L1771.64 786.17 L1780.85 784.86 L1790.05 783.63 L1799.25 782.48 L1808.46 781.4 L1817.66 780.4 L1826.86 779.51 L1836.07 778.72 L1845.27 778.11 L1854.47 777.66 L1863.68 777.33 L1872.88 777.09 L1882.08 776.95 L1891.29 776.94 L1900.49 777.03 L1909.69 777.2 L1918.9 777.5 L1928.1 777.9" fill="none" stroke-dasharray="1.7 4.7" stroke-width="1.7" stroke="#3a3a3a" stroke-linejoin="round"/>
<path d="M1661.2 838 L1670.41 744.5 L1679.61 723.8 L1688.81 708.88 L1698.02 696.53 L1707.22 686.83 L1716.42 678.65 L1725.63 671.16 L1734.83 663.71 L1744.03 656.4 L1753.24 649.5 L1762.44 642.87 L1771.64 636.32 L1780.85 629.95 L1790.05 623.98 L1799.25 618.43 L1808.46 613.39 L1817.66 608.83 L1826.86 604.8 L1836.07 601.3 L1845.27 598.37 L1854.47 596.04 L1863.68 594.24 L1872.88 592.97 L1882.08 592.13 L1891.29 591.79 L1900.49 591.88 L1909.69 592.3 L1918.9 593.32 L1928.1 594.9" fill="none" stroke-dasharray="15.8 9.8" stroke-width="1.8" stroke="#0a0a0a" stroke-linejoin="round"/>
<path d="M1661.2 838 L1670.41 874.1 L1679.61 883.1 L1688.81 887.51 L1698.02 890.56 L1707.22 892.53 L1716.42 893.86 L1725.63 894.86 L1734.83 895.72 L1744.03 896.45 L1753.24 897.05 L1762.44 897.58 L1771.64 898 L1780.85 898.29 L1790.05 898.47 L1799.25 898.61 L1808.46 898.68 L1817.66 898.7 L1826.86 898.7 L1836.07 898.7 L1845.27 898.68 L1854.47 898.62 L1863.68 898.5 L1872.88 898.33 L1882.08 898.1 L1891.29 897.78 L1900.49 897.43 L1909.69 897.05 L1918.9 896.64 L1928.1 896.2" fill="none" stroke-width="1.8" stroke="#0a0a0a" stroke-linejoin="round"/>
<line x1="1652.3" y1="838" x2="1927.2" y2="838" stroke="#d6394a" stroke-width="1.7" stroke-dasharray="15.2 10.35" fill="none"/>
</g>
<rect x="1652.9" y="545.6" width="274.3" height="408.7" fill="none" stroke="#0d0d0d" stroke-width="1.6"/>
<path d="M1744.33 954.3 v-3.6 M1744.33 545.6 v3.6 M1835.77 954.3 v-3.6 M1835.77 545.6 v3.6 M1652.9 603.27 h3.6 M1927.2 603.27 h-3.6 M1652.9 661.94 h3.6 M1927.2 661.94 h-3.6 M1652.9 720.61 h3.6 M1927.2 720.61 h-3.6 M1652.9 779.29 h3.6 M1927.2 779.29 h-3.6 M1652.9 837.96 h3.6 M1927.2 837.96 h-3.6 M1652.9 896.63 h3.6 M1927.2 896.63 h-3.6" stroke="#0d0d0d" stroke-width="1.4" fill="none"/>
<text transform="translate(1651.5 983.6) scale(1 1.1)" font-size="20.6" text-anchor="middle" fill="#202020" stroke="#202020" stroke-width="0.12">0</text>
<text transform="translate(1743.77 983.6) scale(1 1.1)" font-size="20.6" text-anchor="middle" fill="#202020" stroke="#202020" stroke-width="0.12">10</text>
<text transform="translate(1836.03 983.6) scale(1 1.1)" font-size="20.6" text-anchor="middle" fill="#202020" stroke="#202020" stroke-width="0.12">20</text>
<text transform="translate(1928.3 983.6) scale(1 1.1)" font-size="20.6" text-anchor="middle" fill="#202020" stroke="#202020" stroke-width="0.12">30</text>
<text transform="translate(1642.7 552.9) scale(1 1.1)" font-size="20.6" text-anchor="end" fill="#202020" stroke="#202020" stroke-width="0.12">250</text>
<text transform="translate(1642.7 611.5) scale(1 1.1)" font-size="20.6" text-anchor="end" fill="#202020" stroke="#202020" stroke-width="0.12">200</text>
<text transform="translate(1642.7 670.1) scale(1 1.1)" font-size="20.6" text-anchor="end" fill="#202020" stroke="#202020" stroke-width="0.12">150</text>
<text transform="translate(1642.7 728.7) scale(1 1.1)" font-size="20.6" text-anchor="end" fill="#202020" stroke="#202020" stroke-width="0.12">100</text>
<text transform="translate(1642.7 787.3) scale(1 1.1)" font-size="20.6" text-anchor="end" fill="#202020" stroke="#202020" stroke-width="0.12">50</text>
<text transform="translate(1642.7 845.9) scale(1 1.1)" font-size="20.6" text-anchor="end" fill="#202020" stroke="#202020" stroke-width="0.12">0</text>
<text transform="translate(1642.7 904.5) scale(1 1.1)" font-size="20.6" text-anchor="end" fill="#202020" stroke="#202020" stroke-width="0.12">-50</text>
<text transform="translate(1642.7 963.1) scale(1 1.1)" font-size="20.6" text-anchor="end" fill="#202020" stroke="#202020" stroke-width="0.12">-100</text>
<text x="1789.2" y="533.4" font-size="23.3" text-anchor="middle" fill="#000" stroke="#000" stroke-width="0.18">Environmental Quality</text>
<text transform="translate(1592.7 749.2) rotate(-90) scale(1 1.1)" font-size="20.6" text-anchor="middle" fill="#202020" stroke="#202020" stroke-width="0.12">(%)</text>
</g>
<g>
<rect x="631.9" y="1010.3" width="753.9" height="35" fill="#fff" stroke="#0d0d0d" stroke-width="1.6"/>
<line x1="638.1" y1="1027.9" x2="701.9" y2="1027.9" stroke="#0a0a0a" stroke-width="1.8"/>
<text x="773.2" y="1036.8" text-anchor="middle" font-size="23.5" fill="#000" stroke="#000" stroke-width="0.18">General TFP</text>
<line x1="853.2" y1="1027.9" x2="917.9" y2="1027.9" stroke="#0a0a0a" stroke-width="1.8" stroke-dasharray="16.4 9.2"/>
<text x="970.6" y="1036.8" text-anchor="middle" font-size="23.5" fill="#000" stroke="#000" stroke-width="0.18">Blue TFP</text>
<line x1="1033.5" y1="1027.9" x2="1094" y2="1027.9" stroke="#3a3a3a" stroke-width="1.7" stroke-dasharray="1.7 4.7"/>
<text x="1241.2" y="1036.8" text-anchor="middle" font-size="23.5" fill="#000" stroke="#000" stroke-width="0.18">Environmental Technology</text>
</g>
</svg>
</body>
</html>
